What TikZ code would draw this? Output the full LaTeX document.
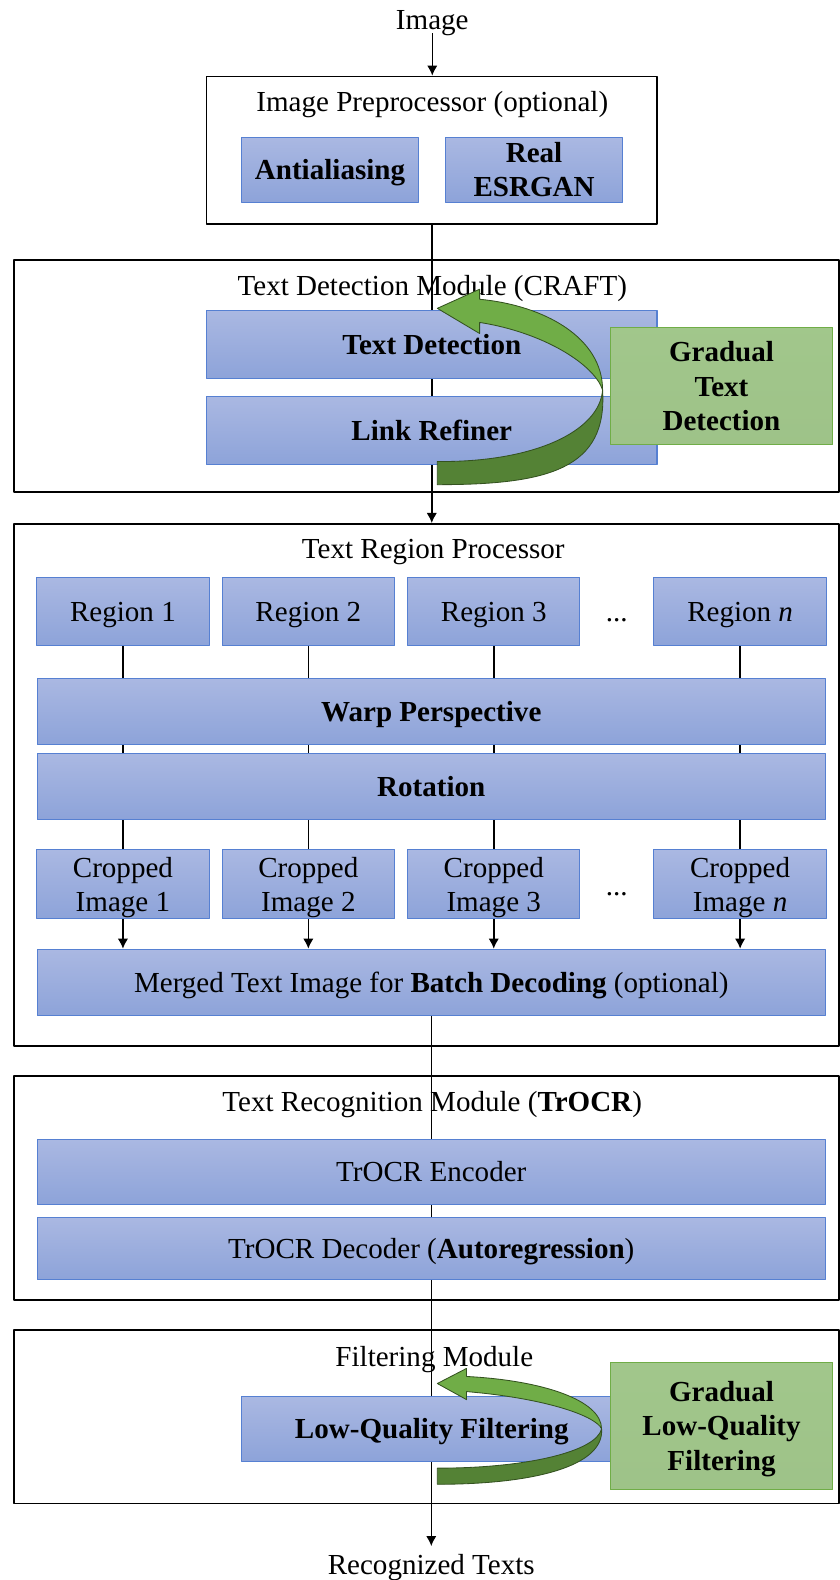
\documentclass[tikz,border=0pt]{standalone}
\usepackage{fontspec}
\setmainfont{Liberation Serif}
\usetikzlibrary{arrows.meta,backgrounds}

\newcommand{\pu}{0.6pt}
\newcommand{\dsize}{\fontsize{17.3}{20.4}\selectfont}

\definecolor{bluetop}{RGB}{170,184,226}
\definecolor{bluebot}{RGB}{141,163,217}
\definecolor{blueedge}{RGB}{86,128,210}
\definecolor{greenfill}{RGB}{168,207,145}
\definecolor{greenedge}{RGB}{112,173,71}
\definecolor{arrlight}{RGB}{112,173,71}
\definecolor{arrdark}{RGB}{84,130,53}
\definecolor{arredge}{RGB}{52,82,32}

\tikzset{
    blk/.style={draw=blueedge,line width=0.6pt,top color=bluetop,bottom color=bluebot,
        inner sep=0pt,text depth=0pt,align=center,font=\dsize},
    bblk/.style={blk,font=\dsize\bfseries},
    gblk/.style={draw=greenedge,line width=0.7pt,top color=greenfill!96!black,
        middle color=greenfill!88!white,bottom color=greenfill!94!black,
        inner sep=0pt,text depth=0pt,align=center,font=\dsize\bfseries},
    modbox/.style={draw=black,line width=1.1pt,inner sep=0pt},
    ttl/.style={inner sep=0pt,text depth=0pt,font=\dsize},
    link/.style={line width=0.9pt},
    arr/.style={line width=0.9pt,-{Latex[length=6pt,width=6.2pt]}},
    bendlight/.style={fill=arrlight,draw=arredge,line width=0.5pt},
    benddark/.style={fill=arrdark,draw=arredge,line width=0.5pt}
}

\begin{document}
\begin{tikzpicture}[x=\pu,y=-\pu,line join=round]

    \useasboundingbox (0,0) rectangle (833,1568);

    % input and output
    \node[ttl,inner sep=2pt] (image) at (429,20) {Image};
    \node[ttl,inner sep=5pt] (out) at (428,1553) {Recognized Texts};

    % image preprocessor
    \node[modbox,minimum width=447*\pu,minimum height=146*\pu] (pre) at (428.5,149) {};
    \node[ttl] (pretitle) at (429,101) {Image Preprocessor (optional)};
    \node[bblk,minimum width=175*\pu,minimum height=65*\pu] (anti) at (327.5,168.5) {Antialiasing};
    \node[bblk,minimum width=175*\pu,minimum height=65*\pu] (esrgan) at (530,168.5) {Real\\ESRGAN};

    % text detection module
    \node[modbox,minimum width=819*\pu,minimum height=230*\pu] (detm) at (423.5,373) {};
    \node[ttl] (dettitle) at (429,283) {Text Detection Module (CRAFT)};
    \node[bblk,minimum width=447*\pu,minimum height=68*\pu] (tdet) at (428.5,342) {Text Detection};
    \node[bblk,minimum width=447*\pu,minimum height=68*\pu] (refine) at (428.5,427) {Link Refiner};
    \node[gblk,minimum width=221*\pu,minimum height=116*\pu] (gtd) at (716,383) {Gradual\\Text\\Detection};

    % text region processor
    \node[modbox,minimum width=819*\pu,minimum height=518*\pu] (trp) at (423.5,779) {};
    \node[ttl] (trptitle) at (430,545) {Text Region Processor};
    \node[blk,minimum width=171*\pu,minimum height=68*\pu] (reg1) at (122,607) {Region 1};
    \node[blk,minimum width=171*\pu,minimum height=68*\pu] (reg2) at (306,607) {Region 2};
    \node[blk,minimum width=171*\pu,minimum height=68*\pu] (reg3) at (490,607) {Region 3};
    \node[blk,minimum width=171*\pu,minimum height=68*\pu] (regn) at (734.5,607) {Region \textit{n}};
    \node[ttl] (dots1) at (612,615) {...};
    \node[bblk,minimum width=782*\pu,minimum height=66*\pu] (warp) at (428,706) {Warp Perspective};
    \node[bblk,minimum width=782*\pu,minimum height=65*\pu] (rot) at (428,780.5) {Rotation};
    \node[blk,minimum width=171*\pu,minimum height=69*\pu] (crop1) at (122,877.5) {Cropped\\Image 1};
    \node[blk,minimum width=171*\pu,minimum height=69*\pu] (crop2) at (306,877.5) {Cropped\\Image 2};
    \node[blk,minimum width=171*\pu,minimum height=69*\pu] (crop3) at (490,877.5) {Cropped\\Image 3};
    \node[blk,minimum width=171*\pu,minimum height=69*\pu] (cropn) at (734.5,877.5) {Cropped\\Image \textit{n}};
    \node[ttl] (dots2) at (612,887) {...};
    \node[blk,minimum width=782*\pu,minimum height=66*\pu] (merged) at (428,975)
        {Merged Text Image for \textbf{Batch Decoding} (optional)};

    % text recognition module
    \node[modbox,minimum width=819*\pu,minimum height=222*\pu] (recm) at (423.5,1179) {};
    \node[ttl] (rectitle) at (429,1093) {Text Recognition Module (\textbf{TrOCR})};
    \node[blk,minimum width=782*\pu,minimum height=64*\pu] (enc) at (428,1163) {TrOCR Encoder};
    \node[blk,minimum width=782*\pu,minimum height=62*\pu] (dec) at (428,1239)
        {TrOCR Decoder (\textbf{Autoregression})};

    % filtering module
    \node[modbox,minimum width=819*\pu,minimum height=172*\pu] (fltm) at (423.5,1406) {};
    \node[ttl] (flttitle) at (431,1346) {Filtering Module};
    \node[bblk,minimum width=377*\pu,minimum height=64*\pu] (lqf) at (428.5,1418) {Low-Quality Filtering};
    \node[gblk,minimum width=221*\pu,minimum height=126*\pu] (glq) at (716,1415) {Gradual\\Low-Quality\\Filtering};

    % connectors, behind the boxes
    \begin{scope}[on background layer]
        \draw[arr] (image.south) -- (image.south |- pre.north);
        \draw[arr] (pre.south) -- (pre.south |- trp.north);
        \draw[link] (reg1.south) -- (crop1.north);
        \draw[link] (reg2.south) -- (crop2.north);
        \draw[link] (reg3.south) -- (crop3.north);
        \draw[link] (regn.south) -- (cropn.north);
        \draw[arr] (crop1.south) -- (crop1.south |- merged.north);
        \draw[arr] (crop2.south) -- (crop2.south |- merged.north);
        \draw[arr] (crop3.south) -- (crop3.south |- merged.north);
        \draw[arr] (cropn.south) -- (cropn.south |- merged.north);
        \draw[arr] (merged.south) -- (merged.south |- out.north);
    \end{scope}

    % curved arrow of gradual text detection
    \filldraw[benddark]
        (598,387) .. controls (603,465) and (545,481) .. (434,481)
        -- (434,458) .. controls (530,459) and (595,428) .. (598,387) -- cycle;
    \filldraw[bendlight]
        (476,287) -- (476,297) .. controls (540,303) and (598,335) .. (598,387)
        .. controls (590,362) and (540,330) .. (476,320) -- (476,331) -- (434,306) -- cycle;

    % curved arrow of gradual low-quality filtering
    \filldraw[benddark]
        (597,1418) .. controls (600,1455) and (530,1473) .. (434,1473)
        -- (434,1457) .. controls (525,1457) and (592,1440) .. (597,1418) -- cycle;
    \filldraw[bendlight]
        (463,1358) -- (463,1366) .. controls (540,1370) and (597,1390) .. (597,1418)
        .. controls (592,1406) and (545,1388) .. (463,1381) -- (463,1389) -- (434,1373) -- cycle;

\end{tikzpicture}
\end{document}
